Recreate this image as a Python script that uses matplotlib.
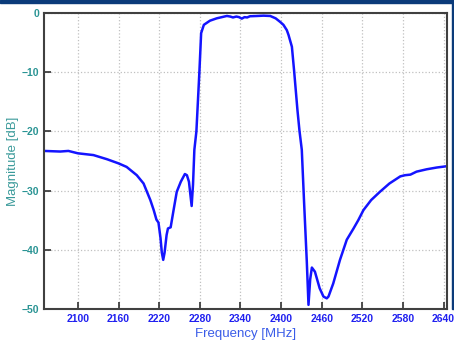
import matplotlib
matplotlib.use("Agg")
import matplotlib.pyplot as plt
from matplotlib.patches import Rectangle

# Filter response
freq_mhz = [2050, 2074, 2086, 2100, 2123, 2143, 2160, 2172, 2187, 2197,
            2207, 2212, 2216, 2219, 2222, 2224, 2226, 2228, 2231, 2233,
            2237, 2241, 2246, 2252, 2258, 2261, 2264, 2268, 2270, 2272,
            2275, 2279.4, 2282, 2286, 2295, 2305, 2320, 2325, 2329, 2334,
            2338, 2342, 2346, 2350, 2354, 2365, 2374, 2384, 2392, 2398.6,
            2403.5, 2408.5, 2411, 2416, 2419.3, 2424.2, 2427.2, 2430.6, 2434, 2438,
            2440.5, 2443, 2445.5, 2450, 2452, 2457, 2462.6, 2467.5, 2470, 2477,
            2487, 2497, 2507, 2514, 2521.6, 2533, 2546, 2560, 2576, 2583,
            2591, 2600, 2615, 2630, 2650]
mag_db = [-23.3, -23.4, -23.3, -23.7, -24.0, -24.7, -25.4, -26.0, -27.4, -28.8,
          -31.6, -33.3, -34.9, -35.4, -38.0, -40.5, -41.7, -40.5, -37.5, -36.4,
          -36.2, -33.5, -30.2, -28.5, -27.2, -27.4, -28.5, -32.6, -29.0, -23.1,
          -20.0, -10.0, -3.4, -2.0, -1.3, -0.9, -0.5, -0.6, -0.75, -0.6,
          -0.7, -0.95, -0.7, -0.75, -0.55, -0.5, -0.45, -0.5, -0.9, -1.5,
          -2.0, -2.9, -3.7, -5.7, -9.8, -16.4, -19.9, -23.1, -32.0, -42.0,
          -49.3, -45.0, -43.0, -43.7, -44.5, -46.5, -47.9, -48.2, -47.9, -45.7,
          -41.7, -38.3, -36.4, -35.0, -33.3, -31.6, -30.2, -28.8, -27.6, -27.4,
          -27.3, -26.8, -26.4, -26.1, -25.8]

x_ticks = [2100, 2160, 2220, 2280, 2340, 2400, 2460, 2520, 2580, 2640]
y_ticks = [0, -10, -20, -30, -40, -50]

plt.rcParams['font.family'] = ['Liberation Sans', 'DejaVu Sans']

fig = plt.figure(figsize=(4.54, 3.45), dpi=100)
ax = fig.add_axes([44 / 454, 36 / 345, 403 / 454, 296 / 345])

ax.plot(freq_mhz, mag_db, color='#1414ff', linewidth=1.8)

ax.set_xlim(2050, 2645)
ax.set_ylim(-50, 0)
ax.set_xticks(x_ticks)
ax.set_yticks(y_ticks)
ax.grid(True, linestyle=':', color='#c0c0c0', linewidth=0.9)

ax.tick_params(direction='in', length=5, width=1.2, color='#303030')
for lbl in ax.get_xticklabels():
    lbl.set_color('#2020f0')
    lbl.set_fontweight('bold')
    lbl.set_fontsize(7.5)
for lbl in ax.get_yticklabels():
    lbl.set_color('#2a9494')
    lbl.set_fontweight('bold')
    lbl.set_fontsize(7.5)

ax.set_xlabel("Frequency [MHz]", color='#3a5ce8', fontsize=9.5, labelpad=3)
ax.set_ylabel("Magnitude [dB]", color='#3a9a9a', fontsize=9.5, labelpad=2)

for spine in ax.spines.values():
    spine.set_color('#404040')
    spine.set_linewidth(1.5)

# dark border strips at the top and right edge of the image
fig.patches.append(Rectangle((0, 1 - 3 / 345), 1, 3 / 345, transform=fig.transFigure,
                             color='#0b3b7a', zorder=-1))
fig.patches.append(Rectangle((1 - 2 / 454, 36 / 345), 2 / 454, 1, transform=fig.transFigure,
                             color='#0b3b7a', zorder=-1))

fig.savefig("out.png", dpi=100)
